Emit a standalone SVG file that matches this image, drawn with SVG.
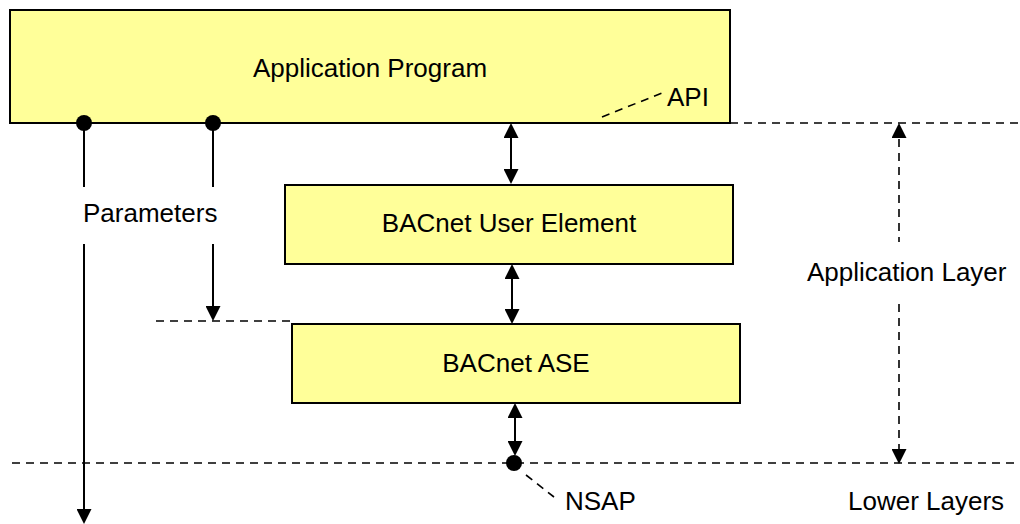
<svg xmlns="http://www.w3.org/2000/svg" width="1020" height="524" viewBox="0 0 1020 524">
  <style>
    .box { fill: #FFFF99; stroke: #000; stroke-width: 2; }
    .lbl { font-family: "Liberation Sans", Arial, sans-serif; font-size: 26px; fill: #000; }
    .mid { text-anchor: middle; }
    .solid { stroke: #000; stroke-width: 2; fill: none; }
    .dash { stroke: #000; stroke-width: 1.6; stroke-dasharray: 8 6; fill: none; }
    .dot { fill: #000; }
  </style>
  <defs>
    <marker id="arrow" viewBox="0 0 15 15" markerUnits="userSpaceOnUse" markerWidth="15" markerHeight="15" refX="13" refY="7.5" orient="auto-start-reverse">
      <path d="M0,0 L15,7.5 L0,15 z" fill="#000"/>
    </marker>
  </defs>

  <rect width="1020" height="524" fill="#fff"/>

  <g id="app-program">
    <rect class="box" x="10" y="10" width="720" height="113"/>
    <text class="lbl mid" x="370" y="77">Application Program</text>
  </g>

  <g id="user-element">
    <rect class="box" x="285" y="185" width="448" height="79"/>
    <text class="lbl mid" x="509" y="232">BACnet User Element</text>
  </g>

  <g id="ase">
    <rect class="box" x="292" y="324" width="448" height="79"/>
    <text class="lbl mid" x="516" y="372">BACnet ASE</text>
  </g>

  <g id="connectors">
    <!-- layer boundaries -->
    <line class="dash" x1="730" y1="123" x2="1020" y2="123"/>
    <line class="dash" x1="12" y1="463" x2="1020" y2="463"/>
    <line class="dash" x1="156" y1="321" x2="290" y2="321"/>

    <!-- service primitives between the stacked elements -->
    <line class="solid" x1="511" y1="125" x2="511" y2="182" marker-start="url(#arrow)" marker-end="url(#arrow)"/>
    <line class="solid" x1="512" y1="266" x2="512" y2="322" marker-start="url(#arrow)" marker-end="url(#arrow)"/>
    <line class="solid" x1="515" y1="405" x2="515" y2="454" marker-start="url(#arrow)" marker-end="url(#arrow)"/>

    <!-- parameter paths from the application program -->
    <line class="solid" x1="84" y1="123" x2="84" y2="187"/>
    <line class="solid" x1="84" y1="244" x2="84" y2="522" marker-end="url(#arrow)"/>
    <line class="solid" x1="213" y1="123" x2="213" y2="187"/>
    <line class="solid" x1="213" y1="244" x2="213" y2="319" marker-end="url(#arrow)"/>
    <circle class="dot" cx="84" cy="123" r="8"/>
    <circle class="dot" cx="213" cy="123" r="8"/>

    <!-- application layer extent -->
    <line class="dash" x1="899" y1="125" x2="899" y2="242" marker-start="url(#arrow)"/>
    <line class="dash" x1="899" y1="304" x2="899" y2="462" marker-end="url(#arrow)"/>

    <!-- access point pointers -->
    <line class="dash" x1="602" y1="117" x2="662" y2="93"/>
    <line class="dash" x1="526" y1="475" x2="554" y2="497"/>
    <circle class="dot" cx="514" cy="463" r="8"/>
  </g>

  <g id="labels">
    <text class="lbl" x="667" y="106">API</text>
    <text class="lbl" x="83" y="222">Parameters</text>
    <text class="lbl" x="807" y="281">Application Layer</text>
    <text class="lbl" x="565" y="510">NSAP</text>
    <text class="lbl" x="848" y="510">Lower Layers</text>
  </g>
</svg>
